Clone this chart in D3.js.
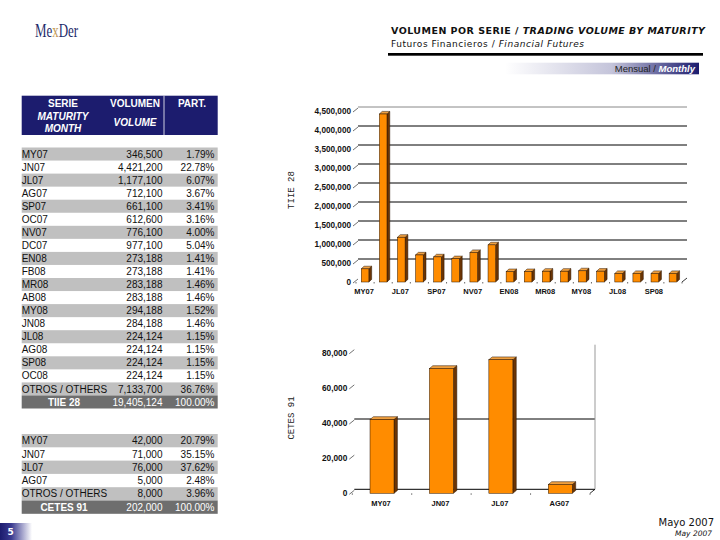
<!DOCTYPE html>
<html><head><meta charset="utf-8">
<script src="https://cdn.jsdelivr.net/npm/d3@7"></script>
<style>body{margin:0;background:#fff}svg{display:block}</style>
</head><body>
<svg id="c" width="720" height="540"></svg>
<script>
// ---------- DATA ----------
const tiieSeries = ["MY07","JN07","JL07","AG07","SP07","OC07","NV07","DC07","EN08","FB08","MR08","AB08","MY08","JN08","JL08","AG08","SP08","OC08"];
const tiieVolume = [346500,4421200,1177100,712100,661100,612600,776100,977100,273188,273188,283188,283188,294188,284188,224124,224124,224124,224124];
const tiiePart = [1.79,22.78,6.07,3.67,3.41,3.16,4.00,5.04,1.41,1.41,1.46,1.46,1.52,1.46,1.15,1.15,1.15,1.15];
const tiieOtherVolume = 7133700, tiieOtherPart = 36.76;
const tiieTotalVolume = 19405124, tiieTotalPart = 100.00;
const tiieTicks = [0,500000,1000000,1500000,2000000,2500000,3000000,3500000,4000000,4500000];

const cetesSeries = ["MY07","JN07","JL07","AG07"];
const cetesVolume = [42000,71000,76000,5000];
const cetesPart = [20.79,35.15,37.62,2.48];
const cetesOtherVolume = 8000, cetesOtherPart = 3.96;
const cetesTotalVolume = 202000, cetesTotalPart = 100.00;
const cetesTicks = [0,20000,40000,60000,80000];

// ---------- SETUP ----------
const svg = d3.select("#c");
const NAVY = "#1c1c6e";
const fmt = d3.format(",");
const pct = v => d3.format(".2f")(v) + "%";
const defs = svg.append("defs");
const g1 = defs.append("linearGradient").attr("id","gm").attr("x1","0").attr("x2","1");
g1.append("stop").attr("offset","0").attr("stop-color","#fff");
g1.append("stop").attr("offset","0.55").attr("stop-color","#c4c4da");
g1.append("stop").attr("offset","1").attr("stop-color",NAVY);
const g2 = defs.append("linearGradient").attr("id","gp").attr("x1","0").attr("x2","1");
g2.append("stop").attr("offset","0").attr("stop-color",NAVY);
g2.append("stop").attr("offset","0.35").attr("stop-color","#3a3a90");
g2.append("stop").attr("offset","1").attr("stop-color","#fff");

// ---------- HEADER ----------
const logo = svg.append("g").attr("transform","translate(35,37) scale(0.72,1)")
  .append("text").attr("x",0).attr("y",0).attr("font-family","Liberation Serif").attr("font-size",18);
logo.append("tspan").attr("fill","#1d2b6b").text("Me");
logo.append("tspan").attr("fill","#c49a58").text("x");
logo.append("tspan").attr("fill","#1d2b6b").text("Der");

const t1 = svg.append("text").attr("x",391).attr("y",34).attr("font-family","DejaVu Sans")
  .attr("font-size",9.5).attr("font-weight","bold").attr("textLength",314).attr("lengthAdjust","spacing").attr("fill","#111");
t1.append("tspan").text("VOLUMEN POR SERIE / ");
t1.append("tspan").attr("font-style","italic").text("TRADING VOLUME BY MATURITY");
const t2 = svg.append("text").attr("x",391).attr("y",46.5).attr("font-family","DejaVu Sans")
  .attr("font-size",9).attr("textLength",193).attr("lengthAdjust","spacing").attr("fill","#111");
t2.append("tspan").text("Futuros Financieros / ");
t2.append("tspan").attr("font-style","italic").text("Financial Futures");
svg.append("rect").attr("x",388).attr("y",53).attr("width",315).attr("height",2.7).attr("fill","#000");
svg.append("rect").attr("x",505).attr("y",62.7).attr("width",194).attr("height",11.6).attr("fill","url(#gm)");
const t3 = svg.append("text").attr("x",695).attr("y",72).attr("text-anchor","end")
  .attr("font-family","Liberation Sans").attr("font-size",9.5);
t3.append("tspan").attr("fill","#222").text("Mensual / ");
t3.append("tspan").attr("fill","#fff").attr("font-weight","bold").attr("font-style","italic").text("Monthly");

// ---------- TABLES ----------
const TX0 = 21.7, TX1 = 217.7, colVol = 162.5, colPart = 214.5;
const hdr = svg.append("g");
hdr.append("rect").attr("x",TX0).attr("y",95.7).attr("width",TX1-TX0).attr("height",39.3).attr("fill",NAVY);
hdr.append("line").attr("x1",164).attr("x2",164).attr("y1",95.7).attr("y2",135).attr("stroke","#fff").attr("stroke-width",0.8);
const ht = (x,y,s,it) => hdr.append("text").attr("x",x).attr("y",y).attr("text-anchor","middle")
  .attr("font-family","Liberation Sans").attr("font-size",10).attr("font-weight","bold")
  .attr("font-style",it?"italic":"normal").attr("fill","#fff").text(s);
ht(63,107,"SERIE"); ht(63,119.5,"MATURITY",true); ht(63,132,"MONTH",true);
ht(135,107,"VOLUMEN"); ht(135,126,"VOLUME",true); ht(192,107,"PART.");

function table(top, rh, names, vols, parts, otherVol, otherPart, totalName, totalVol, totalPart){
  const rows = names.map((n,i)=>({n, v:fmt(vols[i]), p:pct(parts[i])}));
  rows.push({n:"OTROS / OTHERS", v:fmt(otherVol), p:pct(otherPart)});
  const tg = svg.append("g");
  rows.forEach((r,i)=>{
    const y = top + i*rh;
    if(i%2===0) tg.append("rect").attr("x",TX0).attr("y",y).attr("width",TX1-TX0).attr("height",rh).attr("fill","#c0c0c0");
    const base = y + rh/2 + 3.6;
    tg.append("text").attr("x",TX0).attr("y",base).attr("font-family","Liberation Sans").attr("font-size",10).attr("fill","#111").text(r.n);
    tg.append("text").attr("x",colVol).attr("y",base).attr("text-anchor","end").attr("font-family","Liberation Sans").attr("font-size",10).attr("fill","#111").text(r.v);
    tg.append("text").attr("x",colPart).attr("y",base).attr("text-anchor","end").attr("font-family","Liberation Sans").attr("font-size",10).attr("fill","#111").text(r.p);
  });
  const y = top + rows.length*rh;
  tg.append("rect").attr("x",TX0).attr("y",y).attr("width",TX1-TX0).attr("height",rh).attr("fill","#6e6e6e");
  const base = y + rh/2 + 3.6;
  tg.append("text").attr("x",64).attr("y",base).attr("text-anchor","middle").attr("font-family","Liberation Sans").attr("font-size",10).attr("font-weight","bold").attr("fill","#fff").text(totalName);
  tg.append("text").attr("x",colVol).attr("y",base).attr("text-anchor","end").attr("font-family","Liberation Sans").attr("font-size",10).attr("fill","#fff").text(fmt(totalVol));
  tg.append("text").attr("x",colPart).attr("y",base).attr("text-anchor","end").attr("font-family","Liberation Sans").attr("font-size",10).attr("fill","#fff").text(pct(totalPart));
}
table(147.5, 13.05, tiieSeries, tiieVolume, tiiePart, tiieOtherVolume, tiieOtherPart, "TIIE 28", tiieTotalVolume, tiieTotalPart);
table(434, 13.3, cetesSeries, cetesVolume, cetesPart, cetesOtherVolume, cetesOtherPart, "CETES 91", cetesTotalVolume, cetesTotalPart);

// ---------- 3D BAR CHARTS ----------
function chart(opt){
  const {names, vals, ticks, x0, x1, y0, yTop, max, dx, dy, bd, bdv, padI, padO, labelEvery, title, titleY, labelY, gridVals, tickFs, backRight, topLine, floorLine} = opt;
  const x = d3.scaleBand().domain(names).range([x0,x1]).paddingInner(padI).paddingOuter(padO);
  const y = d3.scaleLinear().domain([0,max]).range([y0,yTop]);
  const g = svg.append("g");
  const bx0 = x0 + dx - 3, bx1 = x1 + dx;
  if(topLine) g.append("line").attr("x1",bx0).attr("x2",bx1).attr("y1",y(max)-dy).attr("y2",y(max)-dy).attr("stroke","#888").attr("stroke-width",1);
  g.selectAll(".grid").data(gridVals).join("line")
    .attr("x1",bx0).attr("x2",bx1).attr("y1",d=>y(d)-dy).attr("y2",d=>y(d)-dy)
    .attr("stroke","#000").attr("stroke-width",1);
  if(floorLine) g.append("line").attr("x1",bx0).attr("x2",bx1).attr("y1",y(0)-dy).attr("y2",y(0)-dy).attr("stroke","#000").attr("stroke-width",1);
  if(backRight) g.append("line").attr("x1",bx1).attr("x2",bx1).attr("y1",y(max)-dy-4).attr("y2",y(0)-dy).attr("stroke","#999").attr("stroke-width",1);
  g.append("line").attr("x1",x1).attr("y1",y0).attr("x2",bx1).attr("y2",y0-dy).attr("stroke","#000").attr("stroke-width",0.8);
  g.selectAll(".st").data(ticks).join("line")
    .attr("x1",x0-3).attr("y1",d=>y(d)+1).attr("x2",x0+dx-3).attr("y2",d=>y(d)-dy+1)
    .attr("stroke","#333").attr("stroke-width",0.7);
  g.selectAll(".yl").data(ticks).join("text")
    .attr("x",x0-5).attr("y",d=>y(d)+3).attr("text-anchor","end")
    .attr("font-family","Liberation Sans").attr("font-size",tickFs).attr("font-weight","bold").attr("fill","#111")
    .text(d=>fmt(d));
  g.selectAll(".xt").data(d3.range(names.length+1)).join("line")
    .attr("x1",i=>x0+i*x.step()).attr("x2",i=>x0+i*x.step()).attr("y1",y0).attr("y2",y0+1.5)
    .attr("stroke","#444").attr("stroke-width",0.8);
  const bars = g.selectAll(".bar").data(names.map((n,i)=>({n,v:vals[i]}))).join("g");
  const w = x.bandwidth();
  bars.append("path").attr("d",d=>{const X=x(d.n)+w, T=y(d.v); return `M${X},${T}L${X+bd},${T-bdv}L${X+bd},${y0-bdv}L${X},${y0}Z`;})
    .attr("fill","#6b3404").attr("stroke","#2a1400").attr("stroke-width",0.5);
  bars.append("path").attr("d",d=>{const X=x(d.n), T=y(d.v); return `M${X},${T}L${X+bd},${T-bdv}L${X+w+bd},${T-bdv}L${X+w},${T}Z`;})
    .attr("fill","#f0a040").attr("stroke","#2a1400").attr("stroke-width",0.5);
  bars.append("rect").attr("x",d=>x(d.n)).attr("y",d=>y(d.v)).attr("width",w).attr("height",d=>y0-y(d.v))
    .attr("fill","#ff8c00").attr("stroke","#2a1400").attr("stroke-width",0.5);
  g.selectAll(".xl").data(names.filter((n,i)=>i%labelEvery===0)).join("text")
    .attr("x",d=>x(d)+w/2-1).attr("y",labelY).attr("text-anchor","middle")
    .attr("font-family","Liberation Sans").attr("font-size",7.5).attr("font-weight","bold").attr("fill","#111")
    .text(d=>d);
  g.append("text").attr("transform",`translate(294,${titleY}) rotate(-90)`).attr("text-anchor","middle")
    .attr("font-family","Liberation Mono").attr("font-size",9).attr("fill","#222").text(title);
}
chart({names:tiieSeries, vals:tiieVolume, ticks:tiieTicks, x0:356, x1:682, y0:282, yTop:111, max:4500000,
  dx:5, dy:4, bd:2.8, bdv:2.6, padI:0.58, padO:0.29, labelEvery:2, title:"TIIE 28", titleY:190, labelY:294,
  gridVals:[500000,1000000,1500000,2000000,2500000,3000000,3500000,4000000], tickFs:8.2, backRight:false, topLine:true, floorLine:false});
chart({names:cetesSeries, vals:cetesVolume, ticks:cetesTicks, x0:352.3, x1:590, y0:493.3, yTop:352.7, max:80000,
  dx:5, dy:4, bd:3.4, bdv:2.8, padI:0.596, padO:0.298, labelEvery:1, title:"CETES 91", titleY:418, labelY:506,
  gridVals:[40000], tickFs:8.3, backRight:true, topLine:false, floorLine:true});

// ---------- FOOTER ----------
svg.append("rect").attr("x",0).attr("y",523).attr("width",32).attr("height",17).attr("fill","url(#gp)");
svg.append("text").attr("x",7.5).attr("y",535).attr("font-family","DejaVu Sans").attr("font-size",9).attr("font-weight","bold").attr("fill","#fff").text("5");
svg.append("text").attr("x",714).attr("y",526).attr("text-anchor","end").attr("font-family","DejaVu Sans").attr("font-size",10).attr("fill","#111").text("Mayo 2007");
svg.append("text").attr("x",712).attr("y",536).attr("text-anchor","end").attr("font-family","DejaVu Sans").attr("font-size",7.5).attr("font-style","italic").attr("fill","#111").text("May 2007");
</script>
</body></html>
